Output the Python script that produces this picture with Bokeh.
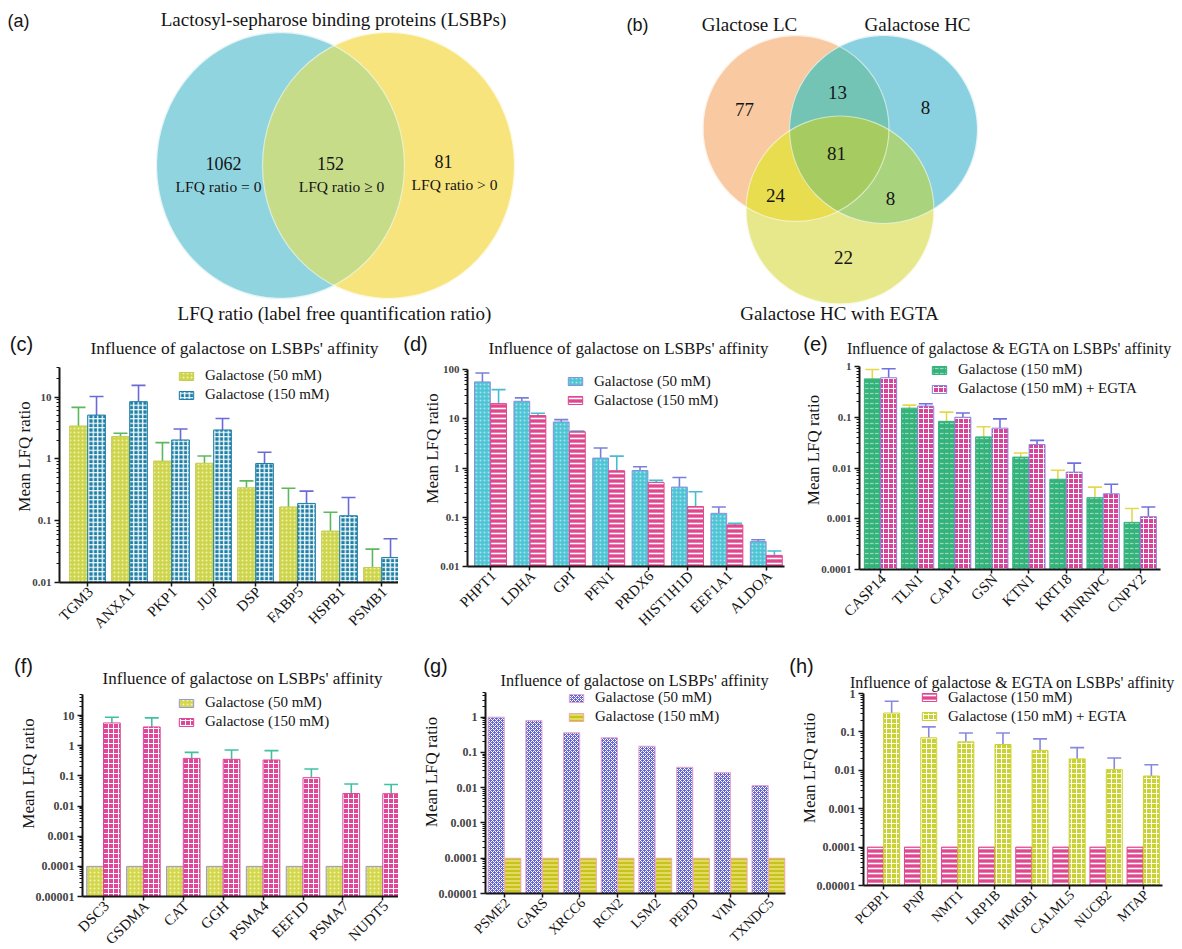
import numpy as np
from bokeh.plotting import figure
from bokeh.layouts import column, row
from bokeh.models import (Range1d, FixedTicker, CustomJSTickFormatter, Legend, LegendItem,
                          Whisker, TeeHead, ColumnDataSource)
from bokeh.core.properties import value
from bokeh.embed import file_html
from bokeh.resources import INLINE

SERIF = "Liberation Serif"
SANS = "Liberation Sans"
INK = "#151515"

# ---------------- data ----------------
# (a) LFQ ratio groups
venn_a_labels = ["LFQ ratio = 0", "LFQ ratio \u2265 0", "LFQ ratio > 0"]
venn_a_counts = [1062, 152, 81]

# (b) three elution conditions; regions: LC, LC&HC, HC, all, LC&EGTA, HC&EGTA, EGTA
venn_b_sets = ["Glactose LC", "Galactose HC", "Galactose HC with EGTA"]
venn_b_counts = [77, 13, 8, 81, 24, 8, 22]

# (c)
c_genes = ["TGM3", "ANXA1", "PKP1", "JUP", "DSP", "FABP5", "HSPB1", "PSMB1"]
c_gal50 = [3.4, 2.3, 0.92, 0.85, 0.34, 0.167, 0.068, 0.0175]
c_gal50_hi = [6.8, 2.6, 1.83, 1.11, 0.44, 0.335, 0.137, 0.0346]
c_gal150 = [5.1, 8.4, 2.02, 2.93, 0.84, 0.19, 0.12, 0.0254]
c_gal150_hi = [10.2, 15.4, 3.04, 4.5, 1.28, 0.30, 0.237, 0.051]

# (d)
d_genes = ["PHPT1", "LDHA", "GPI", "PFN1", "PRDX6", "HIST1H1D", "EEF1A1", "ALDOA"]
d_gal50 = [56, 22.6, 8.6, 1.59, 0.89, 0.41, 0.12, 0.032]
d_gal50_hi = [85, 26.5, 9.6, 2.54, 1.06, 0.64, 0.162, 0.035]
d_gal150 = [20.3, 11.6, 5.46, 0.88, 0.51, 0.165, 0.07, 0.0168]
d_gal150_hi = [39, 12.9, 5.6, 1.74, 0.56, 0.33, 0.075, 0.0206]

# (e)
e_genes = ["CASP14", "TLN1", "CAP1", "GSN", "KTN1", "KRT18", "HNRNPC", "CNPY2"]
e_gal150 = [0.57, 0.151, 0.083, 0.041, 0.0164, 0.006, 0.0026, 0.00085]
e_gal150_hi = [0.87, 0.173, 0.126, 0.065, 0.0197, 0.009, 0.0042, 0.00159]
e_egta = [0.6, 0.166, 0.1, 0.061, 0.029, 0.0083, 0.0031, 0.0011]
e_egta_hi = [0.9, 0.184, 0.121, 0.093, 0.035, 0.0125, 0.0048, 0.0017]

# (f)
f_genes = ["DSC3", "GSDMA", "CAT", "GGH", "PSMA4", "EEF1D", "PSMA7", "NUDT5"]
f_gal50 = [0.0001] * 8
f_gal150 = [5.7, 4.2, 0.38, 0.354, 0.336, 0.087, 0.026, 0.0256]
f_gal150_hi = [8.8, 8.4, 0.6, 0.72, 0.69, 0.17, 0.054, 0.052]

# (g)
g_genes = ["PSME2", "GARS", "XRCC6", "RCN2", "LSM2", "PEPD", "VIM", "TXNDC5"]
g_gal50 = [1.0, 0.80, 0.36, 0.26, 0.15, 0.038, 0.027, 0.0115]
g_gal150 = [0.0001] * 8

# (h)
h_genes = ["PCBP1", "PNP", "NMT1", "LRP1B", "HMGB1", "CALML5", "NUCB2", "MTAP"]
h_gal150 = [0.0001] * 8
h_egta = [0.31, 0.07, 0.055, 0.047, 0.033, 0.0198, 0.0104, 0.0071]
h_egta_hi = [0.63, 0.135, 0.094, 0.094, 0.066, 0.039, 0.021, 0.014]

LEG_50 = "Galactose (50 mM)"
LEG_150 = "Galactose (150 mM)"
LEG_EGTA = "Galactose (150 mM) + EGTA"
TITLE_GAL = "Influence of galactose on LSBPs' affinity"
TITLE_EGTA = "Influence of galactose & EGTA on LSBPs' affinity"


def hex_rgb(h):
    h = h.lstrip("#")
    return [int(h[i:i + 2], 16) for i in (0, 2, 4)]


def venn_image(W, H, shapes, colors, ss=3):
    xs = (np.arange(W * ss) + 0.5) / ss
    ys = (np.arange(H * ss) + 0.5) / ss
    X, Y = np.meshgrid(xs, ys)
    code = np.zeros(X.shape, dtype=int)
    for k, (cx, cy, rx, ry) in enumerate(shapes):
        inside = ((X - cx) / rx) ** 2 + ((Y - cy) / ry) ** 2 <= 1.0
        code |= inside.astype(int) << k
    rgb = np.full(X.shape + (3,), 255.0)
    for c, col in colors.items():
        rgb[code == c] = hex_rgb(col)
    rgb = rgb.reshape(H, ss, W, ss, 3).mean(axis=(1, 3))
    out = np.empty((H, W, 4), dtype=np.uint8)
    out[..., :3] = np.round(rgb).astype(np.uint8)
    out[..., 3] = 255
    return out.view(np.uint32).reshape(H, W)


def venn_figure(W, H, shapes, colors):
    p = figure(width=W, height=H, x_range=Range1d(0, W), y_range=Range1d(0, H),
               x_axis_location=None, y_axis_location=None,
               output_backend="svg", toolbar_location=None, min_border=0)
    p.grid.visible = False
    p.outline_line_color = None
    p.background_fill_color = "white"
    p.border_fill_color = "white"
    p.image_rgba(image=[venn_image(W, H, shapes, colors)], x=0, y=0, dw=W, dh=H)
    p.ellipse(x=[s[0] for s in shapes], y=[s[1] for s in shapes],
              width=[2 * s[2] for s in shapes], height=[2 * s[3] for s in shapes],
              fill_alpha=0, line_color="white", line_alpha=0.55, line_width=1.2)
    return p


def venn_text(p, H, xs, Ys, texts, size, font=SERIF):
    p.text(x=xs, y=[H - Y for Y in Ys], text=texts, text_font=value(font),
           text_font_size=size, text_align="center", text_baseline="middle",
           text_color=INK)


# ---------------- panel (a) ----------------
WA, HA = 600, 330
pa = venn_figure(WA, HA,
                 [(280, HA - 165, 124, 133), (388, HA - 165, 126, 133)],
                 {1: "#90d4e0", 2: "#f8e47c", 3: "#c6dc88"})
venn_text(pa, HA, [223, 330, 443], [163, 163, 161], [str(v) for v in venn_a_counts], "18px")
venn_text(pa, HA, [218, 341, 454], [186, 186, 184], venn_a_labels, "15.5px")
venn_text(pa, HA, [333], [19], ["Lactosyl-sepharose binding proteins (LSBPs)"], "19px")
venn_text(pa, HA, [334], [313], ["LFQ ratio (label free quantification ratio)"], "19px")
venn_text(pa, HA, [18], [20], ["(a)"], "18px", SANS)

# ---------------- panel (b) ----------------
WB, HB = 582, 330
pb = venn_figure(WB, HB,
                 [(195.5, HB - 128, 93, 93), (283, HB - 129, 94, 94), (239.5, HB - 209.5, 94, 94)],
                 {1: "#f9c9a1", 2: "#89d1e0", 3: "#73c4b5", 4: "#e7e78b",
                  5: "#e8dc4f", 6: "#a9d37d", 7: "#a6cb61"})
venn_text(pb, HB, [144, 237, 325, 236, 175, 290, 243],
          [109, 92, 107, 153, 195, 198, 257], [str(v) for v in venn_b_counts], "19px")
venn_text(pb, HB, [149, 317, 239], [24, 24, 313], venn_b_sets, "19px")
venn_text(pb, HB, [37], [24], ["(b)"], "18px", SANS)


# ---------------- bar panels ----------------
def decade_ticks(lo, hi):
    k0 = int(round(np.log10(lo)))
    k1 = int(np.floor(np.log10(hi) + 1e-9))
    major = [float(f"1e{k}") for k in range(k0, k1 + 1)]
    minor = [float(f"{m}e{k}") for k in range(k0, k1 + 1) for m in range(2, 10)
             if float(f"{m}e{k}") <= hi * 1.0001]
    return major, minor


TICK_FMT = CustomJSTickFormatter(code="""
    if (tick >= 1) { return tick.toFixed(0); }
    const d = Math.round(-Math.log10(tick));
    return tick.toFixed(d);
""")


def bar_panel(spec):
    fx0, fx1 = spec["fig_x"]
    ry0 = spec["row_top"]
    B = spec["bottom_border"]             # same for every plot of a row
    fl, fr, ft, fb = spec["axes_box"]     # where the two axis lines end
    c0, dx = spec["centers"]
    lo, hi = spec["y_range"]
    genes = spec["genes"]
    n = len(genes)

    dec = (fb - ft) / np.log10(hi / lo)            # pixels per decade
    y_end = hi * 10 ** ((ft - ry0) / dec)          # frame reaches the top of the figure
    x_start = -(c0 - fl) / dx
    x_end = (fx1 - c0) / dx
    p = figure(width=fx1 - fx0, height=fb - ry0 + B, y_axis_type="log",
               x_range=Range1d(x_start, x_end), y_range=Range1d(lo, y_end),
               output_backend="svg", toolbar_location=None,
               min_border_left=fl - fx0, min_border_right=0,
               min_border_top=0, min_border_bottom=B)
    p.grid.visible = False
    p.outline_line_color = None
    p.background_fill_color = "white"
    p.border_fill_color = "white"

    idx = np.arange(n)
    rends = []
    for k, ser in enumerate(spec["series"]):
        off = -spec["offset"] if k == 0 else spec["offset"]
        vals = ser["values"]
        hi_vals = ser.get("upper") or vals
        src = ColumnDataSource(dict(x=idx + off, top=vals, upper=hi_vals))
        st = ser["style"]
        r = p.vbar(x="x", top="top", bottom=lo, width=spec["bar_w"], source=src,
                   fill_color=st["fill"], line_color=st["line"], line_width=1,
                   hatch_pattern=st["hatch"], hatch_color=st["hatch_color"],
                   hatch_scale=st["scale"], hatch_weight=st["weight"])
        rends.append(r)
        if ser.get("upper"):
            p.add_layout(Whisker(source=src, base="x", lower="top", upper="upper",
                                 line_color=st["err"], line_width=1.6,
                                 upper_head=TeeHead(size=14, line_color=st["err"], line_width=1.6),
                                 lower_head=None))

    # axes
    major, minor = decade_ticks(lo, hi)
    ya = p.yaxis[0]
    ya.bounds = (lo, hi)
    ya.ticker = FixedTicker(ticks=major, minor_ticks=minor)
    ya.formatter = TICK_FMT
    ya.axis_label = "Mean LFQ ratio"
    ya.axis_label_text_font = SERIF
    ya.axis_label_text_font_size = "17px"
    ya.axis_label_text_font_style = "normal"
    ya.axis_label_text_color = INK
    ya.axis_label_standoff = -5
    ya.major_label_text_font = SERIF
    ya.major_label_text_font_style = "bold"
    ya.major_label_text_font_size = spec.get("ytick_size", "11px")
    ya.major_label_standoff = 3
    ya.major_tick_out = 5

    xa = p.xaxis[0]
    xa.bounds = (x_start, (fr - c0) / dx)
    xa.ticker = FixedTicker(ticks=list(range(n)))
    xa.major_label_text_color = None          # category names are drawn below as slanted text
    xa.major_tick_out = 4

    for ax in (xa, ya):
        ax.axis_line_width = 2
        ax.axis_line_color = INK
        ax.major_tick_line_color = INK
        ax.major_tick_line_width = 1.5
        ax.major_tick_in = 0
        ax.minor_tick_line_color = INK
        ax.minor_tick_out = 3
        ax.minor_tick_in = 0

    # slanted category names hanging from the x ticks
    p.text(x=list(idx), y=[lo] * n, text=genes, angle=np.pi / 4,
           x_offset=3, y_offset=7, text_align="right", text_baseline="middle",
           text_font=value(SERIF), text_font_size=spec.get("xtick_size", "15px"),
           text_color=INK, level="overlay")

    # free text (title and panel letter) placed in page pixels through the plot scales
    def put(X, Y, text, size, font=SERIF):
        xd = (X - c0) / dx
        yd = lo * 10 ** ((fb - Y) / dec)
        p.text(x=[xd], y=[yd], text=[text], text_font=value(font), text_font_size=size,
               text_align="center", text_baseline="middle", text_color=INK, level="overlay")

    tx, ty = spec["title_xy"]
    put(tx, ty, spec["title"], spec["title_size"])
    lx, ly = spec["letter_xy"]
    put(lx, ly, spec["letter"], "20px", SANS)

    gx, gy = spec["legend_xy"]
    row_h, gap = 17, 2
    legend = Legend(items=[LegendItem(label=s["label"], renderers=[r])
                           for s, r in zip(spec["series"], rends)],
                    location=(gx - fl, fb - (gy - row_h / 2 + 2 * row_h + gap) - 2),
                    orientation="vertical", glyph_width=18, glyph_height=10,
                    label_standoff=10, spacing=gap, padding=0, margin=0,
                    label_height=row_h, label_text_font=SERIF,
                    label_text_font_size="15px", label_text_color=INK,
                    border_line_color=None, background_fill_alpha=0)
    p.add_layout(legend)
    return p


def style(fill, hatch, hatch_color, line, err=None, scale=5, weight=1.0):
    return dict(fill=fill, hatch=hatch, hatch_color=hatch_color, line=line, err=err,
                scale=scale, weight=weight)


YEL_DOT = style("#cdd54c", "dot", "#f1f2b4", "#c4cc58", "#5cb85c", 4, 1)
BLUE_GRID = style("#1d7fa6", "cross", "white", "#1d7fa6", "#6a6ad8", 4.5, 1.3)
CYAN_DOT = style("#4ec4d4", "dot", "#a8e4ec", "#8a90dc", "#7a80d8", 4, 1)
PINK_LINES = style("#e0478e", "horizontal_line", "white", "#e0478e", "#47bdd0", 5, 1.6)
GREEN_DASH = style("#35b27c", "horizontal_dash", "#93dab6", "#35b27c", "#e4d84c", 5, 1.2)
PINK_GRID = style("#d9449a", "cross", "white", "#8a86e0", "#7070e0", 5, 1.0)

MID_TOP, MID_B = 330, 68      # middle row: 330 .. 650
BOT_TOP, BOT_B = 650, 53      # bottom row: 650 .. 949

pc = bar_panel(dict(
    fig_x=(0, 398), row_top=MID_TOP, bottom_border=MID_B,
    axes_box=(59, 398, 367, 582), centers=(87, 42),
    y_range=(0.01, 30), genes=c_genes, bar_w=0.42, offset=0.215,
    series=[dict(values=c_gal50, upper=c_gal50_hi, label=LEG_50, style=YEL_DOT),
            dict(values=c_gal150, upper=c_gal150_hi, label=LEG_150, style=BLUE_GRID)],
    title=TITLE_GAL, title_size="17.5px", title_xy=(234, 347),
    letter="(c)", letter_xy=(21, 343), legend_xy=(177, 373.5)))

pd_ = bar_panel(dict(
    fig_x=(398, 795), row_top=MID_TOP, bottom_border=MID_B,
    axes_box=(467, 784, 369, 566), centers=(490, 39.4),
    y_range=(0.01, 100), genes=d_genes, bar_w=0.40, offset=0.205,
    series=[dict(values=d_gal50, upper=d_gal50_hi, label=LEG_50, style=CYAN_DOT),
            dict(values=d_gal150, upper=d_gal150_hi, label=LEG_150, style=PINK_LINES)],
    title=TITLE_GAL, title_size="17px", title_xy=(628, 348),
    letter="(d)", letter_xy=(415, 343), legend_xy=(566, 379)))

pe = bar_panel(dict(
    fig_x=(795, 1182), row_top=MID_TOP, bottom_border=MID_B,
    axes_box=(859, 1160, 366, 569), centers=(880, 37.1),
    y_range=(0.0001, 1), genes=e_genes, bar_w=0.43, offset=0.22,
    series=[dict(values=e_gal150, upper=e_gal150_hi, label=LEG_150, style=GREEN_DASH),
            dict(values=e_egta, upper=e_egta_hi, label=LEG_EGTA, style=PINK_GRID)],
    title=TITLE_EGTA, title_size="16px", title_xy=(1009, 348),
    letter="(e)", letter_xy=(815, 343), legend_xy=(930, 367.5)))

pf = bar_panel(dict(
    fig_x=(0, 398), row_top=BOT_TOP, bottom_border=BOT_B,
    axes_box=(82, 398, 694, 896), centers=(103, 39.9),
    y_range=(0.00001, 50), genes=f_genes, bar_w=0.42, offset=0.21, ytick_size="12px",
    series=[dict(values=f_gal50, label=LEG_50,
                 style=style("#d3d74e", "dot", "#f1f2b4", "#9a96dc", None, 4, 1)),
            dict(values=f_gal150, upper=f_gal150_hi, label=LEG_150,
                 style=style("#e0479a", "cross", "white", "#e0479a", "#40c0a0", 5, 1.0))],
    title=TITLE_GAL, title_size="17px", title_xy=(242, 678),
    letter="(f)", letter_xy=(23, 665), legend_xy=(177, 700.5)))

pg = bar_panel(dict(
    fig_x=(398, 788), row_top=BOT_TOP, bottom_border=BOT_B,
    axes_box=(485, 785, 692, 893), centers=(504, 37.7),
    y_range=(0.00001, 5), genes=g_genes, bar_w=0.43, offset=0.22,
    ytick_size="12px", xtick_size="14px",
    series=[dict(values=g_gal50, label=LEG_50,
                 style=style("#6464d2", "diagonal_cross", "white", "#e8a8cc", None, 4, 1.0)),
            dict(values=g_gal150, label=LEG_150,
                 style=style("#c8c21c", "horizontal_line", "#ece680", "#f0a8b4", None, 4, 1.4))],
    title=TITLE_GAL, title_size="16.3px", title_xy=(634, 680),
    letter="(g)", letter_xy=(435, 665), legend_xy=(567, 695.5)))

ph = bar_panel(dict(
    fig_x=(788, 1182), row_top=BOT_TOP, bottom_border=BOT_B,
    axes_box=(863, 1162, 693, 885), centers=(883, 37.1),
    y_range=(0.00001, 1), genes=h_genes, bar_w=0.43, offset=0.22,
    ytick_size="12px", xtick_size="14px",
    series=[dict(values=h_gal150, label=LEG_150,
                 style=style("#e0478e", "horizontal_line", "white", "#e0478e", None, 5, 1.6)),
            dict(values=h_egta, upper=h_egta_hi, label=LEG_EGTA,
                 style=style("#cad232", "cross", "white", "#cad232", "#8888e0", 5, 1.0))],
    title=TITLE_EGTA, title_size="16px", title_xy=(1012, 682),
    letter="(h)", letter_xy=(801, 665), legend_xy=(920, 695)))

layout = column(row(pa, pb), row(pc, pd_, pe), row(pf, pg, ph))

open("out.html", "w").write(file_html(layout, INLINE))
